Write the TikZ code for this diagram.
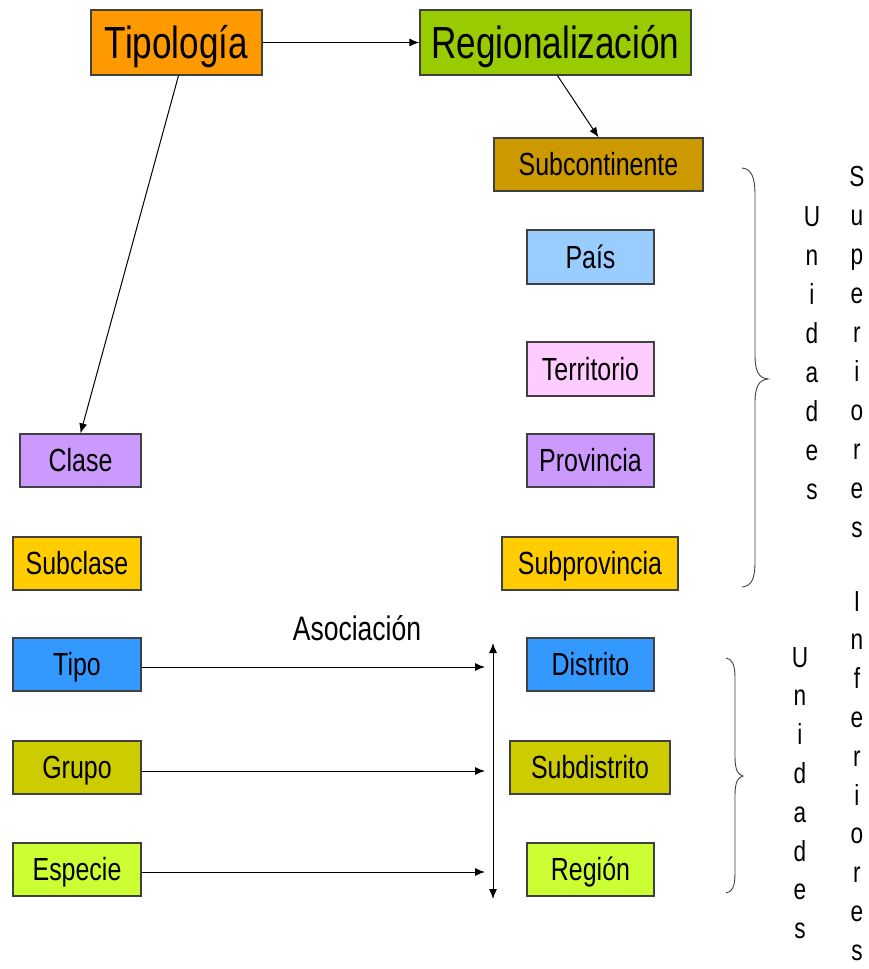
\documentclass[tikz,border=0pt]{standalone}
\usepackage{fontspec}
\setmainfont{Liberation Sans}[FakeStretch=0.78]
\usetikzlibrary{arrows.meta}
\definecolor{cTipol}{HTML}{FF9900}
\definecolor{cRegio}{HTML}{99CC00}
\definecolor{cSubc}{HTML}{CC9900}
\definecolor{cPais}{HTML}{99CCFF}
\definecolor{cTerr}{HTML}{FFCCFF}
\definecolor{cProv}{HTML}{CC99FF}
\definecolor{cSubp}{HTML}{FFCC00}
\definecolor{cDist}{HTML}{3399FF}
\definecolor{cSubd}{HTML}{CCCC00}
\definecolor{cReg}{HTML}{CCFF33}
\definecolor{cBord}{HTML}{404040}
\tikzset{
  box/.style={draw=cBord, line width=1.3pt, inner sep=0pt, font=\fontsize{32}{36}\selectfont, minimum height=53pt, text height=29pt, text depth=6.8pt},
  bigbox/.style={box, font=\fontsize{45}{50}\selectfont, minimum height=65pt, text height=40.7pt, text depth=9.5pt},
  arr/.style={line width=1pt, -{Latex[length=10pt,width=8pt]}},
  darr/.style={line width=1pt, {Latex[length=10pt,width=8pt]}-{Latex[length=10pt,width=8pt]}},
  vl/.style={anchor=base, inner sep=0pt, font=\fontsize{29}{34}\selectfont},
  brc/.style={line width=0.9pt, draw=black!75}
}
\begin{document}
\begin{tikzpicture}[x=1pt,y=-1pt]
\useasboundingbox (0,0) rectangle (869,969);
% top
\node[bigbox, fill=cTipol, minimum width=171pt] (tipol) at (176.5,42.5) {Tipología};
\node[bigbox, fill=cRegio, minimum width=271pt] (regio) at (555.5,42.5) {Regionalización};
% right column
\node[box, fill=cSubc, minimum width=209pt] (subc) at (598.5,164.5) {Subcontinente};
\node[box, fill=cPais, minimum width=127pt, minimum height=54pt] (pais) at (590.5,257) {País};
\node[box, fill=cTerr, minimum width=127pt, minimum height=54pt] (terr) at (590.5,369) {Territorio};
\node[box, fill=cProv, minimum width=127pt] (prov) at (590.5,460.5) {Provincia};
\node[box, fill=cSubp, minimum width=176pt] (subp) at (590,563.5) {Subprovincia};
\node[box, fill=cDist, minimum width=127pt] (dist) at (590.5,664.5) {Distrito};
\node[box, fill=cSubd, minimum width=160pt] (subd) at (590,767.5) {Subdistrito};
\node[box, fill=cReg, minimum width=127pt] (reg) at (590.5,869.5) {Región};
% left column
\node[box, fill=cProv, minimum width=121pt] (clase) at (80.5,460.5) {Clase};
\node[box, fill=cSubp, minimum width=128pt] (subcl) at (77,563.5) {Subclase};
\node[box, fill=cDist, minimum width=128pt] (tipo) at (77,664.5) {Tipo};
\node[box, fill=cSubd, minimum width=128pt] (grupo) at (77,767.5) {Grupo};
\node[box, fill=cReg, minimum width=128pt] (espec) at (77,869.5) {Especie};
% label
\node[inner sep=0pt, font=\fontsize{34}{38}\selectfont] (asoc) at (357,628) {Asociación};
% connectors
\draw[arr] (tipol.east) -- (regio.west);
\draw[arr] ([xshift=2pt]tipol.south) -- (clase.north);
\draw[arr] ([xshift=2pt]regio.south) -- (subc.north);
\coordinate (e1) at (485,667);
\coordinate (e2) at (485,771);
\coordinate (e3) at (485,872);
\draw[arr] (tipo.east |- e1) -- (e1);
\draw[arr] (grupo.east |- e2) -- (e2);
\draw[arr] (espec.east |- e3) -- (e3);
\coordinate (vt) at (493,643);
\coordinate (vb) at (493,899);
\draw[darr] (vt) -- (vb);
% braces
\draw[brc] (742,168) .. controls (751,169) and (755,176) .. (755,195) -- (755,355)
  .. controls (755,372) and (759,378) .. (768,379)
  .. controls (759,380) and (755,386) .. (755,403) -- (755,562)
  .. controls (755,580) and (751,586) .. (742,587);
\draw[brc] (726,658) .. controls (732,659) and (735,664) .. (735,678) -- (735,757)
  .. controls (735,770) and (738,775) .. (743,776)
  .. controls (738,777) and (735,782) .. (735,795) -- (735,873)
  .. controls (735,887) and (732,892) .. (726,893);
% vertical words
\foreach \c [count=\i] in {U,n,i,d,a,d,e,s}
  \node[vl] (ua\i) at (812,226+39*\i-39) {\c};
\foreach \c [count=\i] in {S,u,p,e,r,i,o,r,e,s}
  \node[vl] (sp\i) at (857,186+39*\i-39) {\c};
\foreach \c [count=\i] in {U,n,i,d,a,d,e,s}
  \node[vl] (ub\i) at (800,667+38.8*\i-38.8) {\c};
\foreach \c [count=\i] in {I,n,f,e,r,i,o,r,e,s}
  \node[vl] (in\i) at (857,611+38.8*\i-38.8) {\c};
\end{tikzpicture}
\end{document}
